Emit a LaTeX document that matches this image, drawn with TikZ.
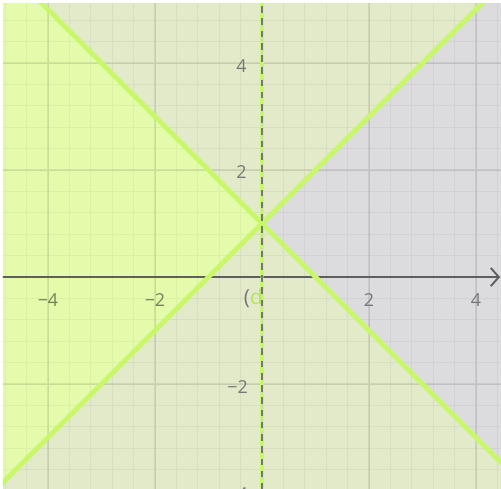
\documentclass[tikz,border=0pt]{standalone}
\usepackage{fontspec}
\setmainfont{Open Sans}
\usetikzlibrary{arrows.meta}
\definecolor{PlotGray}{HTML}{DCDCDE}
\definecolor{PlotPale}{HTML}{E2EAC9}
\definecolor{PlotLime}{HTML}{E4FBAB}
\definecolor{LineLime}{HTML}{C8F76A}
\definecolor{LabelLime}{HTML}{B6E35E}
\definecolor{AxisDark}{HTML}{5E5E5E}
\definecolor{TickGray}{HTML}{777777}
\definecolor{TickOlive}{HTML}{74825A}
\tikzset{
  gridminor/.style={draw=black,draw opacity=0.045,line width=0.5pt},
  gridmajor/.style={draw=black,draw opacity=0.08,line width=1pt},
  axisline/.style={draw=AxisDark,line width=1pt},
  axisdash/.style={draw=AxisDark!85,line width=0.8pt,dash pattern=on 3.5pt off 3pt},
  boundline/.style={draw=LineLime,line width=2.6pt},
  bounddash/.style={draw=LineLime,line width=2.2pt,dash pattern=on 4.5pt off 3pt},
  ticklabel/.style={font=\fontsize{9.5}{11}\selectfont,text=TickGray,inner sep=0pt},
  tickolive/.style={ticklabel,text=TickOlive}
}

\begin{document}
\begin{tikzpicture}
\useasboundingbox (-4.897,-3.944) rectangle (4.467,5.178);
\fill[white] (-4.897,-3.944) rectangle (4.467,5.178);
\begin{scope}
\clip (-4.841,-3.944) rectangle (4.467,5.122);
\coordinate (vertex) at (0,1);
\coordinate (ul) at (-7,8);
\coordinate (ur) at (7,8);
\coordinate (ll) at (-7,-6);
\coordinate (lr) at (7,-6);
% shaded regions
\fill[PlotGray] (vertex) -- (ur) -- (lr) -- cycle;
\fill[PlotPale] (vertex) -- (ul) -- (ur) -- cycle;
\fill[PlotPale] (vertex) -- (ll) -- (lr) -- cycle;
\fill[PlotLime] (vertex) -- (ul) -- (ll) -- cycle;
% grid
\draw[gridminor,step=0.4] (-5.2,-4.4) grid (4.8,5.6);
\draw[gridmajor,step=2] (-6,-6) grid (6,6);
% axes
\coordinate (xstart) at (-5,0);
\coordinate (xend) at (4.45,0);
\coordinate (ybot) at (0,-4.2);
\coordinate (ytop) at (0,5.4);
\draw[axisline,-{Straight Barb[length=1.5mm,width=3.4mm]}] (xstart) -- (xend);
% tick labels
\node[tickolive] (xm4) at (-4,-0.43) {−4};
\node[tickolive] (xm2) at (-2,-0.43) {−2};
\node[ticklabel] (x2) at (2,-0.43) {2};
\node[ticklabel] (x4) at (4,-0.43) {4};
\node[ticklabel,anchor=east] (y4) at (-0.28,3.94) {4};
\node[ticklabel,anchor=east] (y2) at (-0.28,1.96) {2};
\node[ticklabel,anchor=east] (ym2) at (-0.26,-2.06) {−2};
\node[ticklabel,anchor=east] (ym4) at (-0.26,-4.06) {−4};
% boundary lines
\draw[boundline] (ll) -- (ur);
\draw[boundline] (ul) -- (lr);
\draw[boundline,draw opacity=0.45] (ybot) -- (ytop);
\draw[bounddash] (ybot) -- (ytop);
\draw[axisdash] (ybot) -- (ytop);
\node[ticklabel,anchor=east,font=\fontsize{11}{12}\selectfont] (orig) at (0.02,-0.39) {(\textcolor{LabelLime}{d}};
\end{scope}
\end{tikzpicture}
\end{document}
